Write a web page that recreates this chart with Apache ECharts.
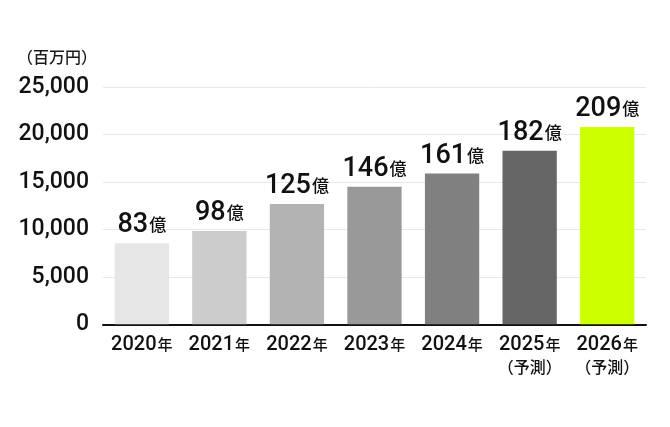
<!DOCTYPE html>
<html>
<head>
<meta charset="utf-8">
<script src="https://cdn.jsdelivr.net/npm/echarts@6/dist/echarts.min.js"></script>
<style>
html,body{margin:0;padding:0;background:#fff;}
#c{width:670px;height:427px;}
</style>
</head>
<body>
<div id="c"></div>
<script>
// ---- data ----
const categories = ['2020年', '2021年', '2022年', '2023年', '2024年', '2025年（予測）', '2026年（予測）'];
const values = [8550, 9850, 12700, 14500, 15900, 18300, 20800];
const valueLabels = ['83億', '98億', '125億', '146億', '161億', '182億', '209億'];
const unitLabel = '（百万円）';

// ---- styles ----
const NUM = "Roboto, 'Noto Sans CJK JP', sans-serif";
const CJK = "'Noto Sans CJK JP', sans-serif";
const palette = ['#e6e6e6', '#cccccc', '#b3b3b3', '#999999', '#808080', '#666666', '#ccff00'];

const chart = echarts.init(document.getElementById('c'), null, {renderer: 'canvas'});

const option = {
  animation: false,
  backgroundColor: '#ffffff',
  grid: {left: 103, right: 24, top: 87.3, bottom: 102.7, containLabel: false},
  graphic: [{
    type: 'text',
    left: 17,
    top: 49,
    style: {text: unitLabel, font: "500 16px " + CJK, fill: '#1a1a1a'}
  }],
  xAxis: {
    type: 'category',
    data: categories,
    axisLine: {lineStyle: {color: '#111', width: 2}},
    axisTick: {show: false},
    axisLabel: {
      margin: 8,
      interval: 0,
      formatter: function (v) {
        const m = v.match(/^(\d+)(年)(.*)$/);
        let s = '{y|' + m[1] + '}{n|' + m[2] + '}';
        if (m[3]) s += '\n{p|' + m[3] + '}';
        return s;
      },
      rich: {
        y: {fontFamily: NUM, fontWeight: 500, fontSize: 20, color: '#111', verticalAlign: 'bottom', lineHeight: 23},
        n: {fontFamily: CJK, fontWeight: 500, fontSize: 15, color: '#111', verticalAlign: 'bottom', lineHeight: 23, padding: [0, 0, 4, 1]},
        p: {fontFamily: CJK, fontWeight: 500, fontSize: 16, color: '#111', lineHeight: 23}
      }
    }
  },
  yAxis: {
    type: 'value',
    min: 0,
    max: 25000,
    interval: 5000,
    axisLine: {show: false},
    axisTick: {show: false},
    splitLine: {lineStyle: {color: '#e8e8e8', width: 1}},
    axisLabel: {
      margin: 14,
      fontFamily: NUM,
      fontWeight: 500,
      fontSize: 23,
      color: '#111',
      formatter: function (v) { return v.toLocaleString('en-US'); }
    }
  },
  series: [{
    type: 'bar',
    data: values,
    barWidth: '70%',
    itemStyle: {
      color: function (p) { return palette[p.dataIndex]; }
    },
    label: {
      show: true,
      position: 'top',
      distance: 4,
      formatter: function (p) {
        const m = valueLabels[p.dataIndex].match(/^(\d+)(.*)$/);
        return '{a|' + m[1] + '}{b|' + m[2] + '}';
      },
      rich: {
        a: {fontFamily: NUM, fontWeight: 500, fontSize: 27, color: '#111', verticalAlign: 'bottom', lineHeight: 30},
        b: {fontFamily: CJK, fontWeight: 500, fontSize: 17, color: '#111', verticalAlign: 'bottom', lineHeight: 30, padding: [0, 0, 6, 1]}
      }
    }
  }]
};
chart.setOption(option);
</script>
</body>
</html>
